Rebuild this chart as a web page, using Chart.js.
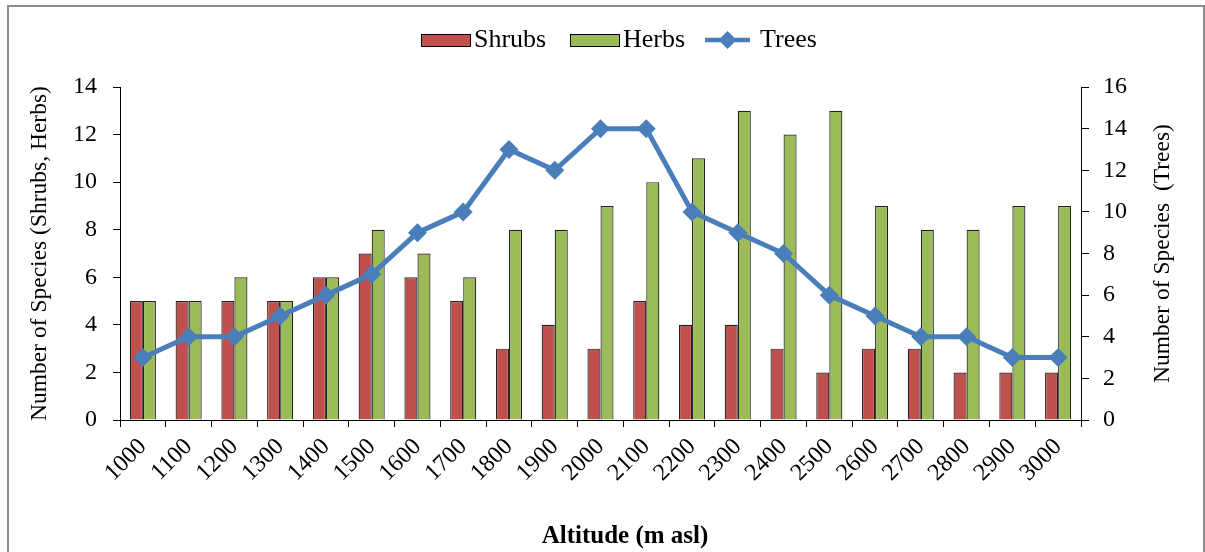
<!DOCTYPE html>
<html>
<head>
<meta charset="utf-8">
<script src="https://cdn.jsdelivr.net/npm/chart.js@4"></script>
<style>
  html, body { margin: 0; padding: 0; background: #fff; }
  #frame { position: absolute; left: 7px; top: 5px; width: 1198px; height: 560px; border: 2px solid #8c8c8c; border-bottom: none; box-sizing: border-box; }
  #wrap { position: absolute; left: 0; top: 0; width: 1205px; height: 552px; }
</style>
</head>
<body>
<div id="frame"></div>
<div id="wrap"><canvas id="c" width="1205" height="552"></canvas></div>
<script>
const categories = ['1000','1100','1200','1300','1400','1500','1600','1700','1800','1900','2000','2100','2200','2300','2400','2500','2600','2700','2800','2900','3000'];
const shrubs = [5,5,5,5,6,7,6,5,3,4,3,5,4,4,3,2,3,3,2,2,2];
const herbs  = [5,5,6,5,6,8,7,6,8,8,9,10,11,13,12,13,9,8,8,9,9];
const trees  = [3,4,4,5,6,7,9,10,13,12,14,14,10,9,8,6,5,4,4,3,3];
const leftTicks = [0,2,4,6,8,10,12,14];
const rightTicks = [0,2,4,6,8,10,12,14,16];

const RED = '#c0504d', GREEN = '#9bbb59', BLUE = '#4a7ebb';
const FONT = '"Liberation Serif", "Times New Roman", serif';

// Custom legend (line + diamond for Trees, boxes for bars)
const customLegend = {
  id: 'customLegend',
  afterDraw(chart) {
    const ctx = chart.ctx;
    const cy = 40;
    ctx.save();
    ctx.font = '26px ' + FONT;
    ctx.fillStyle = '#000';
    ctx.textBaseline = 'middle';
    ctx.textAlign = 'left';
    // Shrubs
    ctx.fillStyle = RED; ctx.fillRect(421.5, 34.5, 49, 12);
    ctx.strokeStyle = '#000'; ctx.lineWidth = 1; ctx.strokeRect(421.5, 34.5, 49, 12);
    ctx.fillStyle = '#000'; ctx.fillText(chart.data.datasets[1].label, 474, cy);
    // Herbs
    ctx.fillStyle = GREEN; ctx.fillRect(570.5, 34.5, 49, 12);
    ctx.strokeRect(570.5, 34.5, 49, 12);
    ctx.fillStyle = '#000'; ctx.fillText(chart.data.datasets[2].label, 623, cy);
    // Trees
    ctx.strokeStyle = BLUE; ctx.lineWidth = 4.5;
    ctx.beginPath(); ctx.moveTo(705, cy); ctx.lineTo(750, cy); ctx.stroke();
    ctx.fillStyle = BLUE;
    ctx.beginPath(); ctx.moveTo(727.5, cy - 9); ctx.lineTo(736.5, cy); ctx.lineTo(727.5, cy + 9); ctx.lineTo(718.5, cy); ctx.closePath(); ctx.fill();
    ctx.fillStyle = '#000'; ctx.fillText(chart.data.datasets[0].label, 760, cy);
    ctx.restore();
  }
};

const axisTitles = {
  id: 'axisTitles',
  afterDraw(chart) {
    const ctx = chart.ctx;
    const a = chart.chartArea;
    ctx.save();
    ctx.fillStyle = '#000';
    ctx.textAlign = 'center';
    ctx.textBaseline = 'middle';
    // x-axis title
    ctx.font = 'bold 25px ' + FONT;
    ctx.fillText('Altitude (m asl)', 625, 537);
    // right y-axis title (reads bottom to top)
    ctx.translate(1163, (a.top + a.bottom) / 2);
    ctx.rotate(-Math.PI / 2);
    ctx.font = '23.5px ' + FONT;
    ctx.fillText('Number of Species  (Trees)', 0, 0);
    ctx.restore();
  }
};

new Chart(document.getElementById('c'), {
  data: {
    labels: categories,
    datasets: [
      { type: 'line', label: 'Trees', data: trees, yAxisID: 'y1', borderColor: BLUE, backgroundColor: BLUE, borderWidth: 5, pointStyle: 'rectRot', pointRadius: 9.5, pointHoverRadius: 9.5, pointBorderWidth: 0, order: 0 },
      { type: 'bar', label: 'Shrubs', data: shrubs, yAxisID: 'y', backgroundColor: RED, borderColor: '#222', borderWidth: 1.2, order: 1 },
      { type: 'bar', label: 'Herbs', data: herbs, yAxisID: 'y', backgroundColor: GREEN, borderColor: '#222', borderWidth: 1.2, order: 1 }
    ]
  },
  options: {
    responsive: false,
    animation: false,
    datasets: { bar: { categoryPercentage: 0.57, barPercentage: 1.0 } },
    layout: { padding: { left: 0, right: 0, top: 87, bottom: 0 } },
    plugins: {
      tooltip: { enabled: false },
      legend: { display: false }
    },
    scales: {
      x: {
        offset: true,
        afterFit(s) { s.height = 132; },
        grid: { offset: true, drawOnChartArea: false, color: '#000', tickLength: 7, tickColor: '#000' },
        border: { color: '#000', width: 1 },
        ticks: { font: { family: FONT, size: 24 }, color: '#000', maxRotation: 45, minRotation: 45, padding: 6, autoSkip: false },
        title: { display: false }
      },
      y: {
        position: 'left',
        min: 0, max: 14,
        afterFit(s) { s.width = 120; },
        afterBuildTicks(s) { s.ticks = leftTicks.map(v => ({ value: v })); },
        grid: { drawOnChartArea: false, color: '#000', tickLength: 7, tickColor: '#000' },
        border: { color: '#000', width: 1 },
        ticks: { font: { family: FONT, size: 24 }, color: '#000', padding: 16 },
        title: { display: true, text: 'Number of Species (Shrubs, Herbs)', font: { family: FONT, size: 23.5 }, color: '#000', padding: { top: 26, bottom: 0 } }
      },
      y1: {
        position: 'right',
        min: 0, max: 16,
        afterFit(s) { s.width = 124; },
        afterBuildTicks(s) { s.ticks = rightTicks.map(v => ({ value: v })); },
        grid: { drawOnChartArea: false, color: '#000', tickLength: 8, tickColor: '#000' },
        border: { color: '#000', width: 1 },
        ticks: { font: { family: FONT, size: 24 }, color: '#000', padding: 14 }
      }
    }
  },
  plugins: [customLegend, axisTitles]
});
</script>
</body>
</html>
